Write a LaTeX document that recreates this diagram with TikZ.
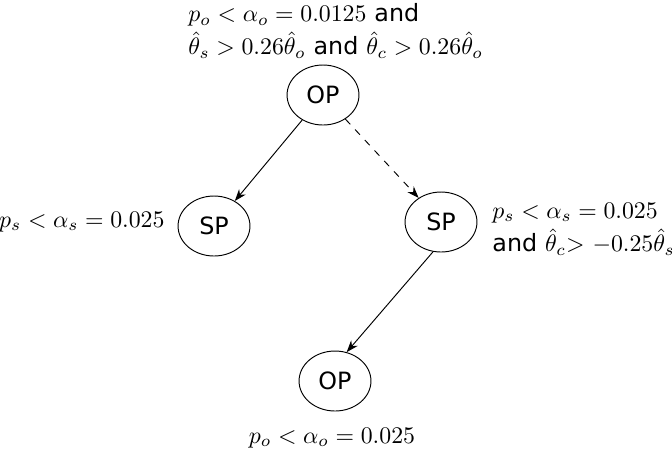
\documentclass[tikz,border=0pt]{standalone}
\usepackage{fontspec}
\usepackage{amsmath}
\usetikzlibrary{shapes.geometric,arrows.meta}
\newfontfamily\verd{DejaVu Sans}

\begin{document}
\begin{tikzpicture}[x=0.42pt,y=0.42pt]
\tikzstyle{every node}+=[inner sep=0pt]
\tikzstyle{state}=[draw, ellipse, minimum width=30.2pt, minimum height=25.2pt, font=\verd]
\tikzstyle{arr}=[-{Stealth[length=5pt,width=3.6pt]}]
\useasboundingbox (0,0) rectangle (672,-454);
% states
\node [state] (op1) at (323,-95) {OP};
\node [state] (sp1) at (214,-226) {SP};
\node [state] (sp2) at (441,-222) {SP};
\node [state] (op2) at (335,-381) {OP};
% conditions
\node [anchor=west, align=left] (cond1) at (188,-31) {$p_o<\alpha_o=0.0125$ {\verd and}\\[2pt] $\hat{\theta}_s>0.26\hat{\theta}_o$ {\verd and} $\hat{\theta}_c>0.26\hat{\theta}_o$};
\node [anchor=east] (cond2) at (165,-222) {$p_s<\alpha_s=0.025$};
\node [anchor=west, align=left] (cond3) at (492,-229) {$p_s<\alpha_s=0.025$\\[2pt] {\verd and} $\hat{\theta}_c{>}$ $-0.25\hat{\theta}_s$};
\node (cond4) at (332,-438) {$p_o<\alpha_o=0.025$};
% transitions
\draw [arr] (op1) -- (sp1);
\draw [arr, dashed] (op1) -- (sp2);
\draw [arr] (sp2.255) -- (op2.68);
\end{tikzpicture}
\end{document}
